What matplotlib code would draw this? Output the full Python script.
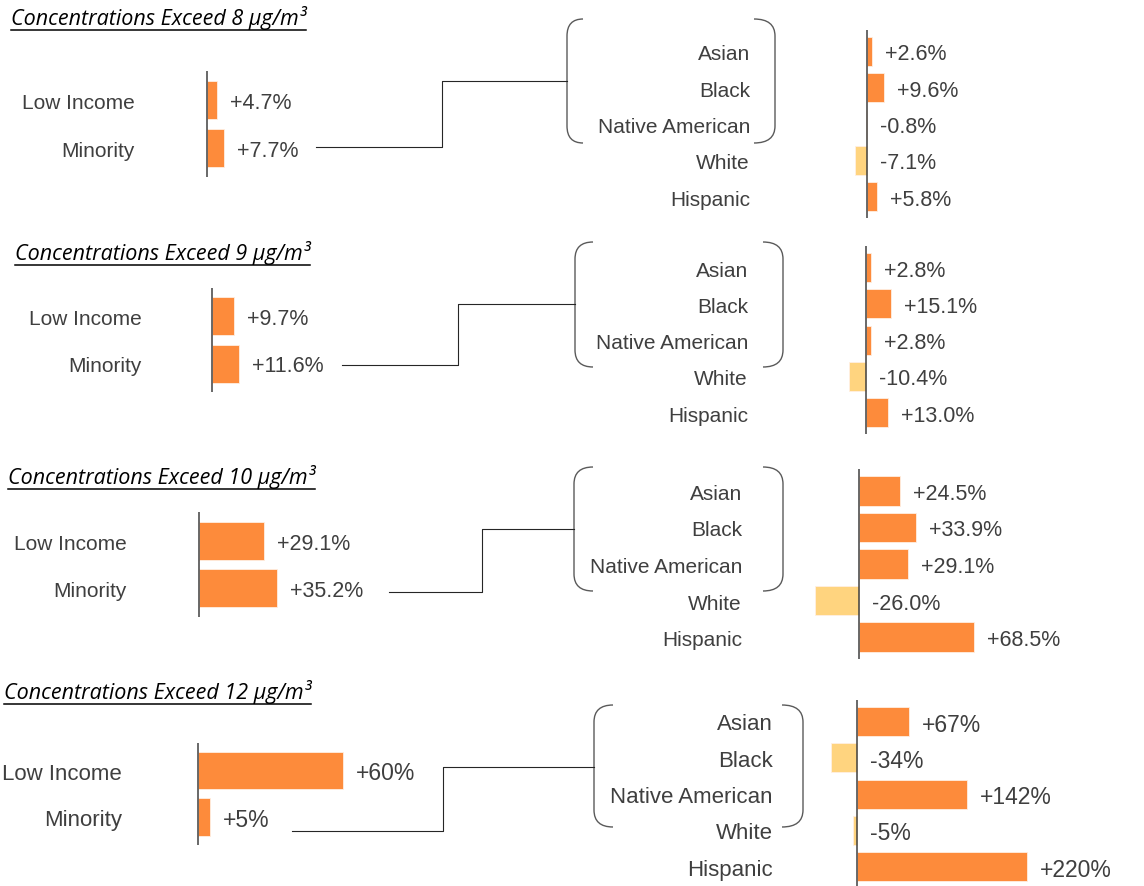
import matplotlib.pyplot as plt
from matplotlib.path import Path
from matplotlib.patches import PathPatch

# data
thresholds = [8, 9, 10, 12]
groups = ['Low Income', 'Minority']
races = ['Asian', 'Black', 'Native American', 'White', 'Hispanic']
low_income = [4.7, 9.7, 29.1, 60]
minority = [7.7, 11.6, 35.2, 5]
asian = [2.6, 2.8, 24.5, 67]
black = [9.6, 15.1, 33.9, -34]
native_american = [-0.8, 2.8, 29.1, 142]
white = [-7.1, -10.4, -26.0, -5]
hispanic = [5.8, 13.0, 68.5, 220]
decimals = [1, 1, 1, 0]

W, H = 1144, 886
PT = 72 / 100  # points per pixel at dpi 100
ORANGE = '#FD8B3B'
YELLOW = '#FFD47F'
TEXT_C = '#3F3F3F'
AXIS_C = '#404040'

# layout of each panel, in figure pixels
title_pos = [(11, 25), (15, 260), (8, 484), (4, 699)]
left_axis = [(207, 100, 48, 2.2, 135), (212, 316, 47.5, 2.3, 142),
             (199, 540.5, 47.5, 2.23, 127), (198, 770.5, 46.5, 2.42, 122)]
right_axis = [(867, 51.5, 36.25, 1.75, 750), (866, 267.5, 36.25, 1.66, 748),
              (859, 491, 36.5, 1.68, 742), (857, 721.5, 36.3, 0.773, 773)]
connectors = [[(316, 147), (442, 147), (442, 81), (567, 81)],
              [(342, 365), (458, 365), (458, 304), (575, 304)],
              [(389, 592), (482, 592), (482, 529), (574, 529)],
              [(292, 831), (443, 831), (443, 767), (594, 767)]]
braces = [(567, 583, 775, 754, 19, 143), (575, 593, 783, 763, 242, 367),
          (574, 593, 783, 763, 467, 591), (594, 613, 803, 782, 705, 827)]
font_sizes = [(15, 15.5), (15, 15.5), (15, 15.5), (16, 16.5)]

plt.rcParams['font.family'] = ['Liberation Sans', 'DejaVu Sans']

fig = plt.figure(figsize=(W / 100, H / 100), dpi=100)
overlay = fig.add_axes([0, 0, 1, 1])
overlay.set_xlim(0, W)
overlay.set_ylim(H, 0)
overlay.axis('off')


def bar_axes(x0, row0, step, n, scale, lpx, rpx):
    top = row0 - 0.6 * step
    hpx = (n - 1 + 1.2) * step
    ax = fig.add_axes([(x0 - lpx) / W, 1 - (top + hpx) / H, (lpx + rpx) / W, hpx / H])
    ax.set_xlim(-lpx / scale, rpx / scale)
    ax.set_ylim(n - 1 + 0.6, -0.6)
    ax.axis('off')
    ax.axvline(0, color=AXIS_C, lw=1.1)
    return ax


def draw_bars(ax, names, vals, x0, label_right, fs_cat, fs_val, dec):
    colors = [ORANGE if v >= 0 else YELLOW for v in vals]
    ax.barh(range(len(vals)), vals, height=0.8, color=colors,
            edgecolor='#FFEFE2', linewidth=0.6)
    dy = -3.5 * PT  # nudge text down so caps sit on the bar centre
    for i, (name, v) in enumerate(zip(names, vals)):
        ax.annotate(name, (0, i), xytext=(-(x0 - label_right) * PT, dy),
                    textcoords='offset points', ha='right', va='center',
                    fontsize=fs_cat, color=TEXT_C, annotation_clip=False)
        ax.annotate(f'{v:+.{dec}f}%', (max(v, 0), i), xytext=(13 * PT, dy),
                    textcoords='offset points', ha='left', va='center',
                    fontsize=fs_val, color=TEXT_C, annotation_clip=False)


def bracket(x_line, x_end, y_top, y_bot, r=17):
    verts = [(x_end, y_top), (x_line, y_top), (x_line, y_top + r),
             (x_line, y_bot - r), (x_line, y_bot), (x_end, y_bot)]
    codes = [Path.MOVETO, Path.CURVE3, Path.CURVE3,
             Path.LINETO, Path.CURVE3, Path.CURVE3]
    overlay.add_patch(PathPatch(Path(verts, codes), fill=False,
                                edgecolor='#5A5A5A', lw=1.0))


titles = []
for k, thr in enumerate(thresholds):
    tx, ty = title_pos[k]
    t = overlay.text(tx, ty, f'Concentrations Exceed {thr} µg/m³',
                     family=['Open Sans', 'DejaVu Sans'], style='italic',
                     fontsize=15.5, color='black', ha='left', va='baseline')
    titles.append(t)

    fs_cat, fs_val = font_sizes[k]
    x0, row0, step, scale, lab = left_axis[k]
    ax = bar_axes(x0, row0, step, len(groups), scale, 5, 200)
    draw_bars(ax, groups, [low_income[k], minority[k]], x0, lab,
              fs_cat, fs_val, decimals[k])

    x0, row0, step, scale, lab = right_axis[k]
    ax = bar_axes(x0, row0, step, len(races), scale, 60, 260)
    vals = [asian[k], black[k], native_american[k], white[k], hispanic[k]]
    draw_bars(ax, races, vals, x0, lab, fs_cat, fs_val, decimals[k])

    xs, ys = zip(*connectors[k])
    overlay.plot(xs, ys, color='#262626', lw=0.8)

    lx, lend, rx, rend, yt, yb = braces[k]
    bracket(lx, lend, yt, yb)
    bracket(rx, rend, yt, yb)

# underline the titles
fig.canvas.draw()
for t, (tx, ty) in zip(titles, title_pos):
    bb = t.get_window_extent()
    overlay.plot([bb.x0, bb.x1], [ty + 5, ty + 5], color='black', lw=1.1)

fig.savefig('out.png', dpi=100)
